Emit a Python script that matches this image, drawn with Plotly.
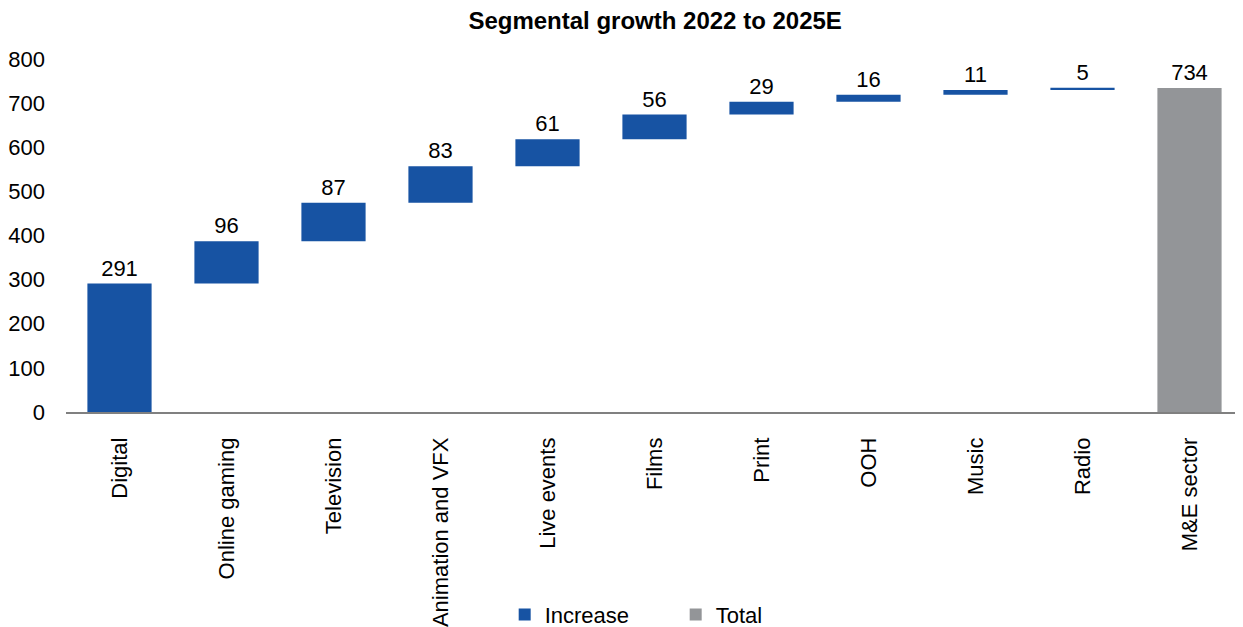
import plotly.graph_objects as go

segments = ["Digital", "Online gaming", "Television", "Animation and VFX", "Live events",
            "Films", "Print", "OOH", "Music", "Radio"]
increases = [291, 96, 87, 83, 61, 56, 29, 16, 11, 5]
total_label = "M&E sector"
total_value = 734
y_ticks = [0, 100, 200, 300, 400, 500, 600, 700, 800]

bases = []
run = 0
for v in increases:
    bases.append(run)
    run += v

blue = "#1753A3"
gray = "#939598"
font = "Liberation Sans, Arial, sans-serif"

fig = go.Figure()
fig.add_trace(go.Bar(
    x=segments, y=increases, base=bases, name="Increase",
    marker=dict(color=blue, line=dict(width=0)), width=0.6,
    text=[str(v) for v in increases], textposition="outside",
    textfont=dict(size=22, color="#000000"), cliponaxis=False,
))
fig.add_trace(go.Bar(
    x=[total_label], y=[total_value], name="Total",
    marker=dict(color=gray, line=dict(width=0)), width=0.6,
    text=[str(total_value)], textposition="outside",
    textfont=dict(size=22, color="#000000"), cliponaxis=False,
))

fig.update_layout(
    width=1235, height=619,
    margin=dict(l=58, r=0, t=51, b=215, autoexpand=False),
    paper_bgcolor="white", plot_bgcolor="white",
    font=dict(family=font, size=22, color="#000000"),
    barmode="overlay",
    title=dict(text="<b>Segmental growth 2022 to 2025E</b>", x=0.524, xanchor="center",
               y=0.979, yanchor="middle", font=dict(size=24, family=font)),
    showlegend=True,
    legend=dict(orientation="h", x=0.518, xanchor="center", y=-0.574, yref="paper",
                yanchor="middle", font=dict(size=22), entrywidth=126, itemwidth=30),
    xaxis=dict(categoryorder="array", categoryarray=segments + [total_label],
               tickangle=-90, showline=True, linecolor="#808080", linewidth=1.5,
               showgrid=False, ticks="", ticklabelstandoff=15, automargin=False,
               tickfont=dict(size=22)),
    yaxis=dict(range=[0, 800], tickvals=y_ticks, showgrid=False, zeroline=False,
               showline=False, ticks="", tickfont=dict(size=22), ticklabelstandoff=20,
               automargin=False),
)

fig.write_html("out.html")
